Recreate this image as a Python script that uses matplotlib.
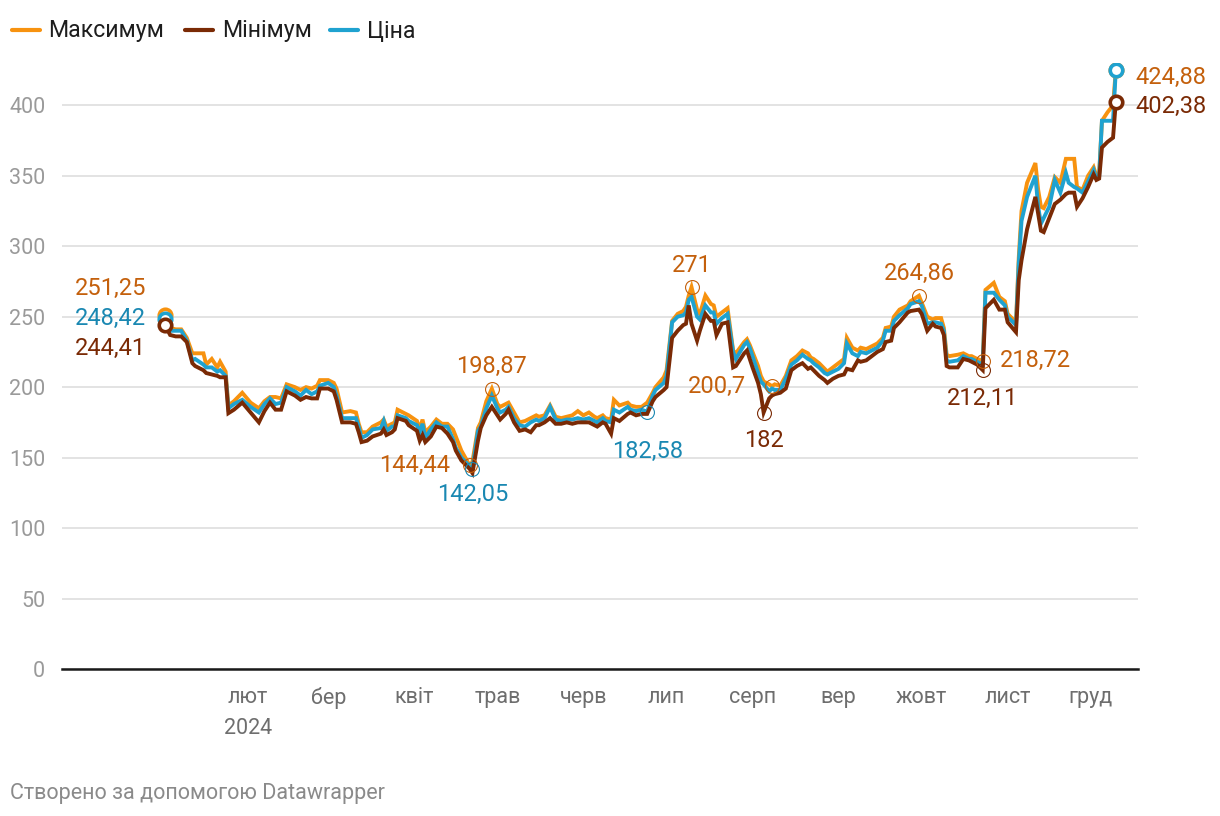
import matplotlib
matplotlib.use("Agg")
import matplotlib.pyplot as plt
import matplotlib.dates as mdates
from matplotlib.lines import Line2D
import pandas as pd
import numpy as np

plt.rcParams['font.family'] = ['Roboto', 'DejaVu Sans']

# ---------------- data ----------------
dates = [
 "2024-01-02","2024-01-04","2024-01-06","2024-01-08","2024-01-10","2024-01-12","2024-01-13","2024-01-16","2024-01-17","2024-01-19",
 "2024-01-21","2024-01-22","2024-01-24","2024-01-25","2024-01-27","2024-01-30","2024-02-02","2024-02-05","2024-02-07","2024-02-09",
 "2024-02-11","2024-02-13","2024-02-15","2024-02-18","2024-02-20","2024-02-22","2024-02-24","2024-02-26","2024-02-27","2024-03-01",
 "2024-03-03","2024-03-04","2024-03-06","2024-03-09","2024-03-11","2024-03-12","2024-03-13","2024-03-15","2024-03-17","2024-03-20",
 "2024-03-21","2024-03-22","2024-03-24","2024-03-25","2024-03-26","2024-03-29","2024-03-30","2024-04-02","2024-04-03","2024-04-04",
 "2024-04-05","2024-04-07","2024-04-09","2024-04-11","2024-04-13","2024-04-15","2024-04-16","2024-04-18","2024-04-20","2024-04-21",
 "2024-04-22","2024-04-24","2024-04-25","2024-04-27","2024-04-29","2024-05-01","2024-05-02","2024-05-04","2024-05-05","2024-05-07",
 "2024-05-09","2024-05-11","2024-05-13","2024-05-15","2024-05-16","2024-05-18","2024-05-20","2024-05-22","2024-05-24","2024-05-26",
 "2024-05-28","2024-05-30","2024-06-01","2024-06-03","2024-06-05","2024-06-06","2024-06-08","2024-06-09","2024-06-11","2024-06-12",
 "2024-06-14","2024-06-17","2024-06-18","2024-06-20","2024-06-22","2024-06-24","2024-06-26","2024-06-27","2024-06-30","2024-07-01",
 "2024-07-03","2024-07-05","2024-07-07","2024-07-08","2024-07-09","2024-07-10","2024-07-12","2024-07-13","2024-07-15","2024-07-17",
 "2024-07-18","2024-07-19","2024-07-21","2024-07-23","2024-07-25","2024-07-26","2024-07-29","2024-07-30","2024-07-31","2024-08-01",
 "2024-08-03","2024-08-04","2024-08-05","2024-08-07","2024-08-08","2024-08-09","2024-08-11","2024-08-13","2024-08-15","2024-08-17",
 "2024-08-19","2024-08-21","2024-08-22","2024-08-23","2024-08-25","2024-08-27","2024-08-28","2024-08-30","2024-09-01","2024-09-03",
 "2024-09-04","2024-09-06","2024-09-08","2024-09-09","2024-09-11","2024-09-13","2024-09-15","2024-09-17","2024-09-18","2024-09-20",
 "2024-09-21","2024-09-23","2024-09-26","2024-09-27","2024-09-30","2024-10-01","2024-10-03","2024-10-05","2024-10-06","2024-10-08",
 "2024-10-09","2024-10-10","2024-10-11","2024-10-14","2024-10-16","2024-10-18","2024-10-19","2024-10-21","2024-10-23","2024-10-24",
 "2024-10-27","2024-10-29","2024-10-31","2024-11-01","2024-11-04","2024-11-05","2024-11-06","2024-11-08","2024-11-11","2024-11-12",
 "2024-11-13","2024-11-14","2024-11-16","2024-11-18","2024-11-20","2024-11-22","2024-11-23","2024-11-25","2024-11-26","2024-11-28",
 "2024-11-30","2024-12-02","2024-12-03","2024-12-04","2024-12-05","2024-12-07","2024-12-09","2024-12-10",
]

maximum = [
 251.25,242,241,241,235,224,224,224,216,220, 214,218,211,187,190,196,189,185,190,193,
 193,192,202,200,198,200,199,201,205,205, 203,199,182,183,182,174,168,168,172,175,
 177,172,174,175,184,181,180,176,170,177, 168,172,177,174,174,170,165,155,148,144.44,
 147,171,175,190,198.87,188,186,188,189,182, 175,176,178,180,179,180,187,179,178,179,
 180,183,180,182,179,178,180,178,177,191, 187,189,187,186,186,189,196,200,207,212,
 247,252,254,257,265,271,255,252,265,259, 258,250,253,256,226,224,232,234,230,225,
 215,208,204,202,200.7,202,201,208,219,222, 226,224,221,220,217,213,211,214,217,220,
 235,228,226,228,227,229,231,235,242,243, 250,255,258,261,264.86,260,250,248,249,249,
 242,223,222,223,224,222,222,220,218.72,269, 274,264,261,252,246,292,325,345,359,340,
 328,327,335,349,345,362,362,362,342,340, 350,356,350,352,389,395,400,424.88,
]

minimum = [
 244.41,237,236,236,232,217,215,212,210,209, 208,207,207,181.5,184,189,182,175,183,189,
 184,184,197,194,191,193,192,192,199,199, 197,191,175,175,174,168,161,162,165,167,
 170,166,168,170,178,176,173,169,162,166, 161,165,172,171,167,161,155,148,144,142,
 139,162,171,180,186,180,177,181,184,175, 169,170,168,173,173,175,178,174,174,175,
 174,175,175,175,173,172,175,174,167,178, 176,181,182,180,181,181,190,193,198,200,
 235,240,244,245,258,245,233,240,252,247, 247,237,245,246,214,215,224,226,220,214,
 203,195,182,192,194,195,196,199,212,215, 217,213,214,212,208,205,203,206,208,209,
 213,212,219,218,219,222,225,227,232,233, 242,246,253,254,255,252,240,245,243,242,
 237,215,214,214,220,219,218,216,212.11,256, 262,255,255,246,239,276,290,312,335,323,
 311,310,320,330,333,337,338,338,328,334, 342,351,347,348,370,374,377,402.38,
]

price = [
 248.42,240,240,240,233,219,220,216,214,214, 211,212,208,185,188,191,186,182,188,192,
 188,189,200,197,194,198,195,197,201,203, 200,194,178,178,178,172,164,166,170,171,
 176,169,172,172,180,178,176,173,168,174, 164,170,175,172,172,163,157,150,146,143,
 142.05,169,172,185,194,185,182,184,186,178, 173,172,175,177,176,178,186,177,176,177,
 177,178,177,178,176,175,178,176,175,184, 182,186,184,183,184,182.58,194,198,203,208,
 246,250,251,253,262,264,250,248,258,253, 253,245,249,252,225,220,230,232,228,222,
 210,204,202,197,199,198,198,206,216,219, 223,220,219,217,214,210,209,211,213,217,
 231,224,222,225,224,226,228,233,240,240, 247,251,256,259,261,258,245,246,246,245,
 240,219,218,219,222,220,220,218,216,267, 267,262,258,250,244,288,318,335,350,328,
 316,320,328,347,338,352,345,342,341,338, 346,354,348,350,389,389,389,424.88,
]

legend_labels = ["Максимум", "Мінімум", "Ціна"]
month_ticks = ["2024-02-01","2024-03-01","2024-04-01","2024-05-01","2024-06-01","2024-07-01",
               "2024-08-01","2024-09-01","2024-10-01","2024-11-01","2024-12-01"]
month_labels = ["лют\n2024","бер","квіт","трав","черв","лип","серп","вер","жовт","лист","груд"]
y_ticks = [0, 50, 100, 150, 200, 250, 300, 350, 400]

# annotated extremes: (series, date, value)
annotations = [
    ("max", "2024-04-29", 198.87),
    ("max", "2024-04-21", 144.44),
    ("price", "2024-04-22", 142.05),
    ("price", "2024-06-24", 182.58),
    ("max", "2024-07-10", 271),
    ("max", "2024-08-08", 200.7),
    ("min", "2024-08-05", 182),
    ("max", "2024-09-30", 264.86),
    ("max", "2024-10-23", 218.72),
    ("min", "2024-10-23", 212.11),
]

# ---------------- style ----------------
C_MAX, C_MIN, C_PRICE = "#f7920f", "#7a2a05", "#1fa2d0"
T_MAX, T_MIN, T_PRICE = "#c4600c", "#7a2a05", "#1a88b2"
line_c = {"max": C_MAX, "min": C_MIN, "price": C_PRICE}
text_c = {"max": T_MAX, "min": T_MIN, "price": T_PRICE}

def fmt(v):
    s = ("%.2f" % v).rstrip("0").rstrip(".")
    return s.replace(".", ",")

d = pd.to_datetime(dates)
fig = plt.figure(figsize=(12.2, 8.16), dpi=100)
ax = fig.add_axes([62/1220, 1-669/816, (1138-62)/1220, (669-63)/816])

lw = 2.8
ax.plot(d, maximum, color=C_MAX, lw=lw, zorder=3, solid_joinstyle="miter")
ax.plot(d, price, color=C_PRICE, lw=lw, zorder=4, solid_joinstyle="miter")
ax.plot(d, minimum, color=C_MIN, lw=lw, zorder=5, solid_joinstyle="miter")

# endpoint markers
ms = 9
for s, c, z in [(maximum, C_MAX, 6), (price, C_PRICE, 7), (minimum, C_MIN, 8)]:
    ax.plot([d[0]], [s[0]], "o", ms=ms, mfc="white", mec=c, mew=2.6, zorder=z)
for s, c, z in [(maximum, C_MAX, 6), (price, C_PRICE, 7), (minimum, C_MIN, 8)]:
    ax.plot([d[-1]], [s[-1]], "o", ms=ms, mfc="white", mec=c, mew=2.6, zorder=z)

FS_ANN = 17
px = 0.72
# start labels
for key, v, dy in [("max", maximum[0], 288), ("price", price[0], 318), ("min", minimum[0], 348)]:
    ax.annotate(fmt(v), xy=(146/1220, 1-dy/816), xycoords="figure fraction",
                ha="right", va="center", color=text_c[key], fontsize=FS_ANN)
# end labels
ax.annotate(fmt(maximum[-1]), xy=(d[-1], price[-1]), xytext=(20*px, -7*px), textcoords="offset points",
            ha="left", va="center", color=T_MAX, fontsize=FS_ANN)
ax.annotate(fmt(minimum[-1]), xy=(d[-1], minimum[-1]), xytext=(20*px, -5*px), textcoords="offset points",
            ha="left", va="center", color=T_MIN, fontsize=FS_ANN)

# extreme annotations
offsets = [
    (0, 22, "center"), (-20, 0, "right"), (0, -26, "center"), (0, -40, "center"),
    (0, 22, "center"), (-26, 0, "right"), (0, -28, "center"), (0, 22, "center"),
    (17, 0, "left"), (0, -28, "center"),
]
for (key, dt, v), (ox, oy, ha) in zip(annotations, offsets):
    t = pd.Timestamp(dt)
    ax.plot([t], [v], "o", ms=10, mfc="none", mec=text_c[key], mew=0.8, zorder=9)
    ax.annotate(fmt(v), xy=(t, v), xytext=(ox*px, oy*px), textcoords="offset points",
                ha=ha, va="center", color=text_c[key], fontsize=FS_ANN, zorder=10)

# axes styling
ax.set_ylim(0, 430)
ax.set_xlim(pd.Timestamp("2023-11-26"), pd.Timestamp("2024-12-18"))
ax.set_yticks(y_ticks)
ax.set_yticklabels([str(v) for v in y_ticks])
ax.set_xticks(pd.to_datetime(month_ticks))
ax.set_xticklabels(month_labels, va="top", linespacing=1.6)
ax.grid(axis="y", color="#e1e1e1", lw=1.3, zorder=0)
ax.tick_params(axis="y", length=0, pad=12, labelsize=15.5, labelcolor="#9a9a9a")
ax.tick_params(axis="x", length=0, pad=13, labelsize=15.5, labelcolor="#6e6e6e")
for lab in ax.get_yticklabels():
    lab.set_horizontalalignment("right")
for sp in ["top", "right", "left"]:
    ax.spines[sp].set_visible(False)
ax.spines["bottom"].set_color("#1a1a1a")
ax.spines["bottom"].set_linewidth(1.8)
ax.spines["bottom"].set_zorder(2)
ax.set_axisbelow(True)

# legend (manual)
leg = [(12, 48, C_MAX), (185, 222, C_MIN), (330, 367, C_PRICE)]
for (x0, xt, c), lab in zip(leg, legend_labels):
    fig.add_artist(Line2D([x0/1220, (x0+28)/1220], [1-30/816, 1-30/816], color=c, lw=3,
                          solid_capstyle="round", transform=fig.transFigure))
    fig.text(xt/1220, 1-31/816, lab, ha="left", va="center", fontsize=16.7, color="#1e1e1e")

fig.text(10/1220, 1-793/816, "Створено за допомогою Datawrapper", ha="left", va="center",
         fontsize=15.5, color="#8a8a8a")

fig.savefig("out.png", dpi=100, facecolor="white")
